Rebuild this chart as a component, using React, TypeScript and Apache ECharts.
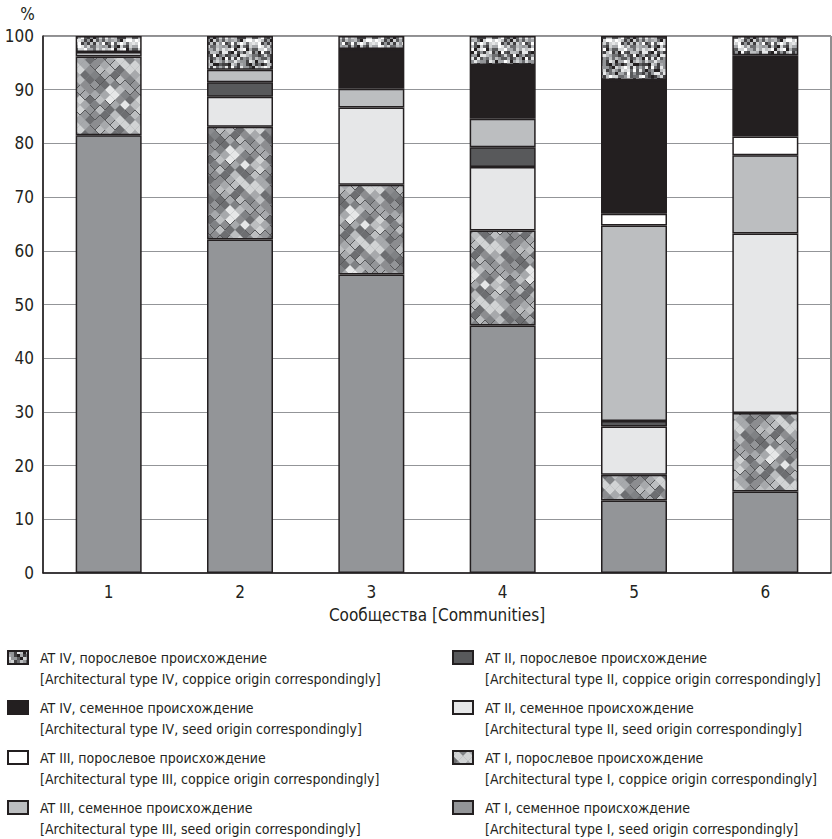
import React, { useEffect, useRef } from 'react';
import * as echarts from 'echarts';

const categories = ['1', '2', '3', '4', '5', '6'];
const atISeed = [81.5, 62.1, 55.6, 46.1, 13.5, 15.2];
const atICoppice = [14.7, 21.0, 16.7, 17.7, 4.8, 14.6];
const atIISeed = [0, 5.6, 14.4, 11.8, 9.0, 33.4];
const atIICoppice = [0, 2.7, 0, 3.7, 1.0, 0];
const atIIISeed = [0.8, 2.3, 3.5, 5.3, 36.4, 14.6];
const atIIICoppice = [0, 0, 0, 0, 2.2, 3.5];
const atIVSeed = [0, 0, 7.4, 10.0, 24.9, 15.1];
const atIVCoppice = [3.0, 6.3, 2.4, 5.4, 8.2, 3.6];

const names = {
  iS: 'AT I, семенное происхождение',
  iC: 'AT I, порослевое происхождение',
  iiS: 'AT II, семенное происхождение',
  iiC: 'AT II, порослевое происхождение',
  iiiS: 'AT III, семенное происхождение',
  iiiC: 'AT III, порослевое происхождение',
  ivS: 'AT IV, семенное происхождение',
  ivC: 'AT IV, порослевое происхождение',
};
const english: Record<string, string> = {
  [names.iS]: '[Architectural type I, seed origin correspondingly]',
  [names.iC]: '[Architectural type I, coppice origin correspondingly]',
  [names.iiS]: '[Architectural type II, seed origin correspondingly]',
  [names.iiC]: '[Architectural type II, coppice origin correspondingly]',
  [names.iiiS]: '[Architectural type III, seed origin correspondingly]',
  [names.iiiC]: '[Architectural type III, coppice origin correspondingly]',
  [names.ivS]: '[Architectural type IV, seed origin correspondingly]',
  [names.ivC]: '[Architectural type IV, coppice origin correspondingly]',
};

const FONT = '"Liberation Sans Narrow", "DejaVu Sans Condensed", "Roboto Condensed", sans-serif';
const INK = '#231f20';

function hash(i: number, j: number, s: number) {
  const x = Math.sin(i * 127.1 + j * 311.7 + s * 74.7) * 43758.5453;
  return x - Math.floor(x);
}

function noiseCanvas() {
  const cell = 3;
  const n = 20;
  const c = document.createElement('canvas');
  c.width = c.height = cell * n;
  const ctx = c.getContext('2d')!;
  const pal = ['#231f20', '#414042', '#58595b', '#6d6e71', '#939598', '#a7a9ac', '#bcbec0', '#d1d3d4', '#e6e7e8', '#ffffff'];
  for (let i = 0; i < n; i++) {
    for (let j = 0; j < n; j++) {
      const r = hash(i, j, 1);
      ctx.fillStyle = pal[Math.floor(r * pal.length)];
      ctx.fillRect(i * cell, j * cell, cell, cell);
    }
  }
  return c;
}

function mosaicCanvas() {
  const S = 60;
  const c = document.createElement('canvas');
  c.width = c.height = S;
  const ctx = c.getContext('2d')!;
  ctx.fillStyle = '#939598';
  ctx.fillRect(0, 0, S, S);
  const pal = ['#6d6e71', '#808285', '#8c8d90', '#939598', '#a7a9ac', '#a7a9ac', '#bcbec0', '#d1d3d4', '#e6e7e8'];
  for (let j = -2; j < 15; j++) {
    for (let i = -2; i < 8; i++) {
      const x = i * 10 + (((j % 2) + 2) % 2) * 5;
      const y = j * 5;
      const ii = ((i % 6) + 6) % 6;
      const jj = ((j % 12) + 12) % 12;
      const r = hash(ii, jj, 2);
      ctx.fillStyle = pal[Math.floor(r * pal.length)];
      ctx.beginPath();
      ctx.moveTo(x, y - 5);
      ctx.lineTo(x + 5, y);
      ctx.lineTo(x, y + 5);
      ctx.lineTo(x - 5, y);
      ctx.closePath();
      ctx.fill();
    }
  }
  for (let j = -2; j < 15; j++) {
    for (let i = -2; i < 8; i++) {
      const x = i * 10 + (((j % 2) + 2) % 2) * 5;
      const y = j * 5;
      const ii = ((i % 6) + 6) % 6;
      const jj = ((j % 12) + 12) % 12;
      if (hash(ii, jj, 3) > 0.72) {
        ctx.strokeStyle = '#58595b';
        ctx.lineWidth = 1;
        ctx.beginPath();
        ctx.moveTo(x - 5, y);
        ctx.lineTo(x, y + 5);
        ctx.lineTo(x + 5, y);
        ctx.stroke();
      }
    }
  }
  return c;
}

export default function App() {
  const ref = useRef<HTMLDivElement>(null);
  useEffect(() => {
    if (!ref.current) return;
    const chart = echarts.init(ref.current, undefined, { renderer: 'svg' });
    const noise = noiseCanvas();
    const mosaic = mosaicCanvas();
    const noisePattern = { image: noise, repeat: 'repeat', imageWidth: noise.width, imageHeight: noise.height };
    const mosaicPattern = { image: mosaic, repeat: 'repeat', imageWidth: mosaic.width, imageHeight: mosaic.height };

    const mk = (name: string, values: number[], color: any) => ({
      name,
      type: 'bar',
      stack: 'total',
      barWidth: 66,
      data: values.map((v) => (v === 0 ? '-' : v)),
      itemStyle: { color, borderColor: INK, borderWidth: 1.5 },
    });

    const legendCommon = {
      orient: 'vertical',
      icon: 'rect',
      itemWidth: 20,
      itemHeight: 13,
      itemGap: -13,
      padding: 0,
      selectedMode: false,
      textStyle: {
        fontFamily: FONT,
        fontSize: 14,
        lineHeight: 21,
        color: INK,
        padding: [0, 0, 0, 7],
      },
      formatter: (n: string) => '\n' + n + '\n' + english[n],
    };

    chart.setOption({
      animation: false,
      backgroundColor: '#ffffff',
      textStyle: { fontFamily: FONT },
      grid: {
        left: 43,
        right: 1,
        top: 36,
        bottom: 266,
        show: true,
        borderColor: INK,
        borderWidth: 1,
      },
      xAxis: {
        type: 'category',
        data: categories,
        axisLine: { lineStyle: { color: INK, width: 1.5 } },
        axisTick: { show: false },
        axisLabel: { fontSize: 17, color: INK, margin: 10, fontFamily: FONT },
        name: 'Сообщества [Communities]',
        nameLocation: 'middle',
        nameGap: 33,
        nameTextStyle: { fontSize: 17, color: INK, fontFamily: FONT },
      },
      yAxis: {
        type: 'value',
        min: 0,
        max: 100,
        interval: 10,
        axisLine: { show: true, lineStyle: { color: INK, width: 1.5 } },
        axisTick: { show: false },
        axisLabel: { fontSize: 17, color: INK, margin: 9, fontFamily: FONT },
        splitLine: { lineStyle: { color: '#939598', width: 1.2 } },
        name: '%',
        nameLocation: 'end',
        nameGap: 22,
        nameTextStyle: {
          fontSize: 17,
          color: INK,
          fontFamily: FONT,
          align: 'center',
          verticalAlign: 'middle',
          padding: [0, 31, 0, 0],
        },
      },
      legend: [
        { ...legendCommon, left: 7, top: 626, data: [names.ivC, names.ivS, names.iiiC, names.iiiS] },
        { ...legendCommon, left: 452, top: 626, data: [names.iiC, names.iiS, names.iC, names.iS] },
      ],
      series: [
        mk(names.iS, atISeed, '#939598'),
        mk(names.iC, atICoppice, mosaicPattern),
        mk(names.iiS, atIISeed, '#e6e7e8'),
        mk(names.iiC, atIICoppice, '#58595b'),
        mk(names.iiiS, atIIISeed, '#bcbec0'),
        mk(names.iiiC, atIIICoppice, '#ffffff'),
        mk(names.ivS, atIVSeed, '#231f20'),
        mk(names.ivC, atIVCoppice, noisePattern),
      ],
    } as any);
    return () => chart.dispose();
  }, []);
  return (
    <div
      ref={ref}
      style={{ position: 'fixed', left: 0, top: 0, width: 832, height: 839, background: '#fff' }}
    />
  );
}
